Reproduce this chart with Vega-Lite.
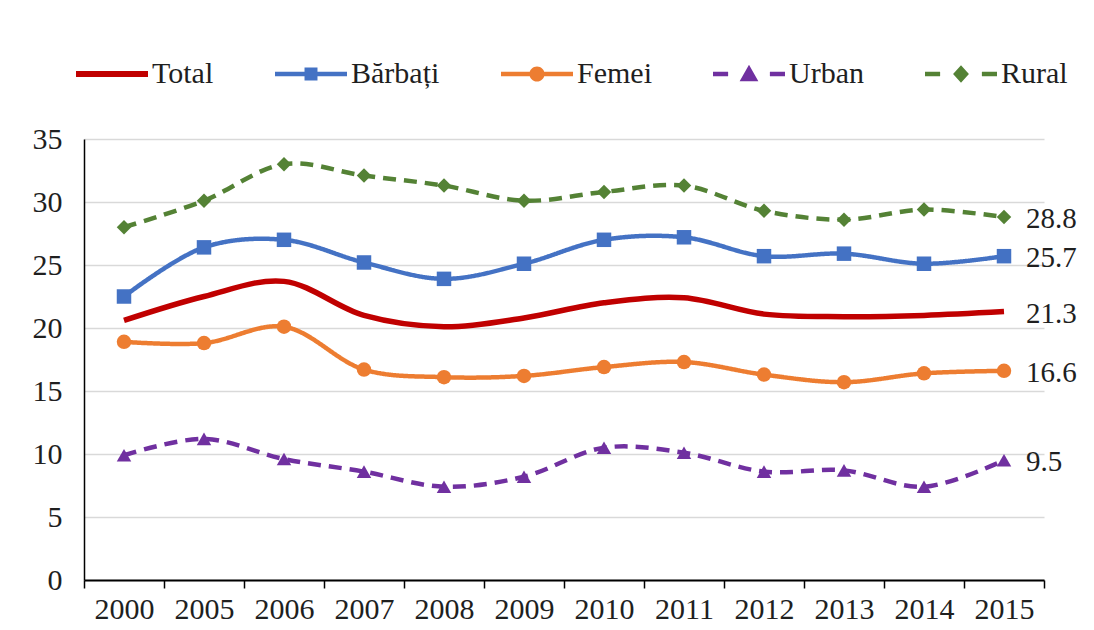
{
  "$schema": "https://vega.github.io/schema/vega-lite/v6.json",
  "width": 960,
  "height": 441,
  "autosize": {"type": "none"},
  "padding": {"left": 84, "top": 139, "right": 50, "bottom": 50},
  "background": "white",
  "config": {"view": {"stroke": null}, "font": "Liberation Serif"},
  "data": {
    "values": [
      {"year": "2000", "Total": 20.6, "Bărbați": 22.5, "Femei": 18.9, "Urban": 9.9, "Rural": 28.0},
      {"year": "2005", "Total": 22.5, "Bărbați": 26.4, "Femei": 18.8, "Urban": 11.2, "Rural": 30.1},
      {"year": "2006", "Total": 23.7, "Bărbați": 27.0, "Femei": 20.1, "Urban": 9.6, "Rural": 33.0},
      {"year": "2007", "Total": 21.0, "Bărbați": 25.2, "Femei": 16.7, "Urban": 8.6, "Rural": 32.1},
      {"year": "2008", "Total": 20.1, "Bărbați": 23.9, "Femei": 16.1, "Urban": 7.4, "Rural": 31.3},
      {"year": "2009", "Total": 20.8, "Bărbați": 25.1, "Femei": 16.2, "Urban": 8.2, "Rural": 30.1},
      {"year": "2010", "Total": 22.0, "Bărbați": 27.0, "Femei": 16.9, "Urban": 10.5, "Rural": 30.8},
      {"year": "2011", "Total": 22.4, "Bărbați": 27.2, "Femei": 17.3, "Urban": 10.1, "Rural": 31.3},
      {"year": "2012", "Total": 21.1, "Bărbați": 25.7, "Femei": 16.3, "Urban": 8.6, "Rural": 29.3},
      {"year": "2013", "Total": 20.9, "Bărbați": 25.9, "Femei": 15.7, "Urban": 8.7, "Rural": 28.6},
      {"year": "2014", "Total": 21.0, "Bărbați": 25.1, "Femei": 16.4, "Urban": 7.4, "Rural": 29.4},
      {"year": "2015", "Total": 21.3, "Bărbați": 25.7, "Femei": 16.6, "Urban": 9.5, "Rural": 28.8}
    ]
  },
  "transform": [{"fold": ["Total", "Bărbați", "Femei", "Urban", "Rural"], "as": ["series", "value"]}],
  "encoding": {
    "x": {
      "field": "year", "type": "ordinal",
      "scale": {"type": "band", "paddingInner": 0, "paddingOuter": 0},
      "axis": {
        "title": null, "labelAngle": 0, "labelFont": "Liberation Serif", "labelFontSize": 30,
        "labelColor": "#1f1f1f", "labelPadding": 6, "tickBand": "extent", "tickSize": 8,
        "tickColor": "#000000", "tickWidth": 1.5, "domainColor": "#000000", "domainWidth": 2, "grid": false
      }
    },
    "y": {
      "field": "value", "type": "quantitative",
      "scale": {"domain": [0, 35], "nice": false},
      "axis": {
        "title": null, "values": [0, 5, 10, 15, 20, 25, 30, 35], "ticks": false,
        "labelFont": "Liberation Serif", "labelFontSize": 30, "labelColor": "#1f1f1f", "labelPadding": 22,
        "domainColor": "#000000", "domainWidth": 1.5, "gridColor": "#d9d9d9", "gridWidth": 1.5
      }
    },
    "color": {
      "field": "series", "type": "nominal",
      "scale": {"domain": ["Total", "Bărbați", "Femei", "Urban", "Rural"], "range": ["#C00000", "#4472C4", "#ED7D31", "#7030A0", "#548235"]},
      "legend": {
        "title": null, "orient": "none", "legendX": -8, "legendY": -101, "direction": "horizontal", "columns": 5,
        "symbolSize": 5184, "symbolStrokeWidth": 0, "labelFont": "Liberation Serif", "labelFontSize": 30,
        "labelColor": "#1f1f1f", "labelOffset": 4, "columnPadding": 61,
        "encode": {
          "symbols": {
            "update": {
              "shape": {"signal": "datum.value === 'Total' ? 'M-1,-0.085H1V0.085H-1Z' : datum.value === 'Bărbați' ? 'M-1,-0.06H1V0.06H-1ZM-0.18,-0.18H0.18V0.18H-0.18Z' : datum.value === 'Femei' ? 'M-1,-0.06H1V0.06H-1ZM-0.21,0A0.21,0.21,0,1,1,0.21,0A0.21,0.21,0,1,1,-0.21,0Z' : datum.value === 'Urban' ? 'M-1,-0.06H-0.58V0.06H-1ZM0.58,-0.06H1V0.06H0.58ZM0,-0.26L0.26,0.2H-0.26Z' : 'M-1,-0.06H-0.58V0.06H-1ZM0.58,-0.06H1V0.06H0.58ZM0,-0.24L0.22,0L0,0.24L-0.22,0Z'"},
              "fill": {"signal": "scale('color', datum.value)"},
              "fillOpacity": {"value": 1},
              "opacity": {"value": 1},
              "strokeWidth": {"value": 0}
            }
          }
        }
      }
    }
  },
  "layer": [
    {
      "transform": [{"filter": "datum.series === 'Total'"}],
      "mark": {"type": "line", "interpolate": "catmull-rom", "strokeWidth": 5.5}
    },
    {
      "transform": [{"filter": "datum.series !== 'Total'"}],
      "mark": {"type": "line", "interpolate": "catmull-rom", "strokeWidth": 4.5},
      "encoding": {
        "strokeDash": {
          "field": "series", "type": "nominal", "legend": null,
          "scale": {"domain": ["Bărbați", "Femei", "Urban", "Rural"], "range": [[1, 0], [1, 0], [13, 8], [13, 8]]}
        }
      }
    },
    {
      "transform": [{"filter": "datum.series !== 'Total'"}],
      "mark": {"type": "point", "filled": true, "opacity": 1, "size": 210},
      "encoding": {
        "shape": {
          "field": "series", "type": "nominal", "legend": null,
          "scale": {"domain": ["Bărbați", "Femei", "Urban", "Rural"], "range": ["square", "circle", "triangle-up", "diamond"]}
        }
      }
    },
    {
      "transform": [{"filter": "datum.year === '2015'"}],
      "mark": {"type": "text", "align": "left", "baseline": "middle", "dx": 22, "dy": 2, "fontSize": 29, "font": "Liberation Serif"},
      "encoding": {
        "text": {"field": "value", "type": "quantitative", "format": ".1f"},
        "color": {"value": "#1f1f1f"}
      }
    }
  ]
}
